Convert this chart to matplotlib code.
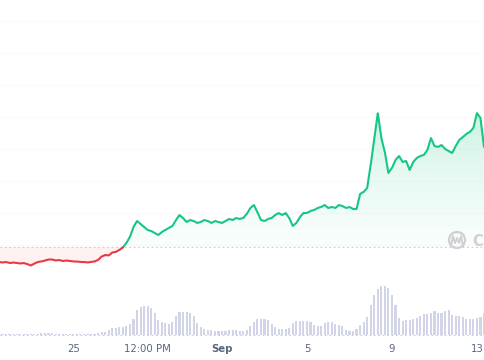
import numpy as np
import matplotlib
matplotlib.use("Agg")
import matplotlib.pyplot as plt
from matplotlib.patches import Circle, PathPatch
from matplotlib.path import Path
from matplotlib.colors import LinearSegmentedColormap

# ---- data (time in days relative to Sep 1, 4-hour steps) ----
t_start = -10.5
t_step = 1.0 / 6.0

price = [0.980, 0.975, 0.980, 0.970, 0.975, 0.970, 0.965, 0.970, 0.960, 0.945,
         0.965, 0.980, 0.985, 0.995, 1.005, 1.005, 0.995, 1.000, 0.990, 0.995,
         0.990, 0.985, 0.985, 0.980, 0.980, 0.975, 0.980, 0.985, 1.000, 1.035,
         1.050, 1.045, 1.075, 1.080, 1.100, 1.125, 1.170, 1.230, 1.330, 1.390,
         1.360, 1.330, 1.300, 1.290, 1.270, 1.250, 1.280, 1.300, 1.320, 1.340,
         1.400, 1.450, 1.420, 1.380, 1.400, 1.390, 1.370, 1.380, 1.400, 1.390,
         1.370, 1.390, 1.380, 1.370, 1.390, 1.410, 1.400, 1.420, 1.410, 1.420,
         1.460, 1.520, 1.550, 1.480, 1.400, 1.390, 1.410, 1.420, 1.450, 1.470,
         1.450, 1.470, 1.420, 1.340, 1.370, 1.430, 1.470, 1.470, 1.490, 1.500,
         1.520, 1.530, 1.550, 1.520, 1.530, 1.520, 1.550, 1.540, 1.520, 1.530,
         1.510, 1.510, 1.660, 1.680, 1.720, 1.950, 2.210, 2.470, 2.220, 2.080,
         1.870, 1.920, 2.000, 2.040, 1.980, 1.990, 1.900, 1.980, 2.020, 2.040,
         2.050, 2.100, 2.220, 2.140, 2.130, 2.150, 2.110, 2.090, 2.070, 2.140,
         2.200, 2.230, 2.260, 2.280, 2.320, 2.470, 2.420, 2.130]

volume = [0.10, 0.10, 0.10, 0.10, 0.10, 0.10, 0.10, 0.10, 0.10, 0.10,
          0.10, 0.10, 0.20, 0.20, 0.20, 0.20, 0.15, 0.10, 0.10, 0.10,
          0.10, 0.10, 0.10, 0.10, 0.10, 0.10, 0.10, 0.15, 0.20, 0.30,
          0.35, 0.50, 0.70, 0.75, 0.80, 0.80, 0.90, 1.10, 1.60, 2.50,
          2.80, 2.90, 2.90, 2.70, 2.20, 1.50, 1.30, 1.20, 1.10, 1.30,
          1.90, 2.30, 2.30, 2.30, 2.20, 1.90, 1.20, 0.80, 0.60, 0.50,
          0.50, 0.45, 0.45, 0.45, 0.45, 0.50, 0.50, 0.50, 0.45, 0.40,
          0.50, 0.90, 1.30, 1.60, 1.60, 1.60, 1.50, 1.10, 0.80, 0.60,
          0.60, 0.60, 0.70, 1.20, 1.40, 1.40, 1.40, 1.40, 1.30, 1.00,
          0.90, 0.90, 1.20, 1.30, 1.30, 1.10, 1.00, 0.90, 0.50, 0.40,
          0.40, 0.60, 1.00, 1.30, 1.80, 3.00, 4.00, 4.60, 4.90, 4.90,
          4.70, 4.00, 3.00, 1.70, 1.40, 1.50, 1.50, 1.60, 1.70, 1.90,
          2.10, 2.10, 2.20, 2.40, 2.20, 2.20, 2.40, 2.50, 2.00, 1.90,
          1.90, 1.80, 1.60, 1.60, 1.60, 1.70, 1.80, 2.20]

baseline_price = 1.13
tick_pos = [-7, -3.5, 0, 4, 8, 12]
tick_labels = ["25", "12:00 PM", "Sep", "5", "9", "13"]
grid_levels = [3.39, 3.07, 2.75, 2.43, 2.11, 1.79, 1.47, 1.15]

GREEN = "#16c784"
RED = "#ea3943"

t = t_start + t_step * np.arange(len(price))
p = np.array(price)
v = np.array(volume)

W, H = 485, 360
fig = plt.figure(figsize=(W / 100, H / 100), dpi=100)
fig.patch.set_facecolor("white")

xlim = (-10.45, 12.38)

# ---- volume axes ----
axv = fig.add_axes([0, 0, 1, 1])
axv.set_xlim(*xlim)
axv.set_ylim(-2.5, 33.5)
axv.axis("off")
axv.bar(t, v, width=t_step * 0.6, color="#d2d5e8", edgecolor="none", zorder=2)
axv.axhline(0, color="#c9ccd6", lw=0.8, ls=(0, (1.5, 2.5)), zorder=3)

# ---- price axes ----
ax = fig.add_axes([0, 0, 1, 1])
ax.patch.set_alpha(0)
ax.set_xlim(*xlim)
ax.set_ylim(0, 3.6)
ax.axis("off")

for g in grid_levels:
    ax.axhline(g, color="#fafafb", lw=0.8, zorder=0)

td = np.linspace(t[0], t[-1], 3000)
pd_ = np.interp(td, t, p)

# green gradient fill above baseline
poly = ax.fill_between(td, pd_, baseline_price, where=pd_ >= baseline_price,
                       facecolor="none", edgecolor="none", interpolate=True)
grad = np.linspace(0.0, 1.0, 256).reshape(-1, 1)
cmap_g = LinearSegmentedColormap.from_list(
    "g", [(22 / 255, 199 / 255, 132 / 255, 0.02),
          (22 / 255, 199 / 255, 132 / 255, 0.10),
          (22 / 255, 199 / 255, 132 / 255, 0.22)])
img = ax.imshow(grad, aspect="auto", cmap=cmap_g, origin="lower",
                extent=[xlim[0], xlim[1], baseline_price, 2.5], zorder=1)
paths = poly.get_paths()
if paths:
    verts = np.concatenate([pp.vertices for pp in paths])
    codes = np.concatenate([pp.codes if pp.codes is not None else
                            np.full(len(pp.vertices), Path.LINETO) for pp in paths])
    clip = Path(verts, codes)
    patch = PathPatch(clip, facecolor="none", edgecolor="none", transform=ax.transData)
    ax.add_patch(patch)
    img.set_clip_path(patch)

# red fill below baseline
ax.fill_between(td, pd_, baseline_price, where=pd_ <= baseline_price,
                facecolor=RED, alpha=0.07, edgecolor="none", interpolate=True, zorder=1)

ax.axhline(baseline_price, color="#c9ccd6", lw=0.8, ls=(0, (1.5, 2.5)), zorder=2)

above = np.where(pd_ >= baseline_price, pd_, np.nan)
below = np.where(pd_ <= baseline_price, pd_, np.nan)
ax.plot(td, above, color=GREEN, lw=1.5, zorder=4, solid_capstyle="round")
ax.plot(td, below, color=RED, lw=1.5, zorder=4, solid_capstyle="round")

# watermark logo
ax.add_patch(Circle((457, H - 240), 8, transform=None, facecolor="none",
                    edgecolor="#d0d0d4", lw=1.6, zorder=3))
sq_x = [451, 453, 455, 457, 459, 461, 463]
sq_y = [246, 236, 243, 238, 243, 236, 246]
ax.plot(sq_x, [H - yy for yy in sq_y], transform=None, color="#d0d0d4", lw=1.4, zorder=3)
fig.text(472 / W, 1 - 241 / H, "C", color="#cfd0d4", fontsize=10.5,
         ha="left", va="center", fontweight="bold")

# x tick labels
for pos, lab in zip(tick_pos, tick_labels):
    axv.text(pos, -1.4, lab, ha="center", va="center", fontsize=7.3,
             color="#58667e", fontweight="bold" if lab == "Sep" else "normal")

fig.savefig("out.png", dpi=100, facecolor="white")
